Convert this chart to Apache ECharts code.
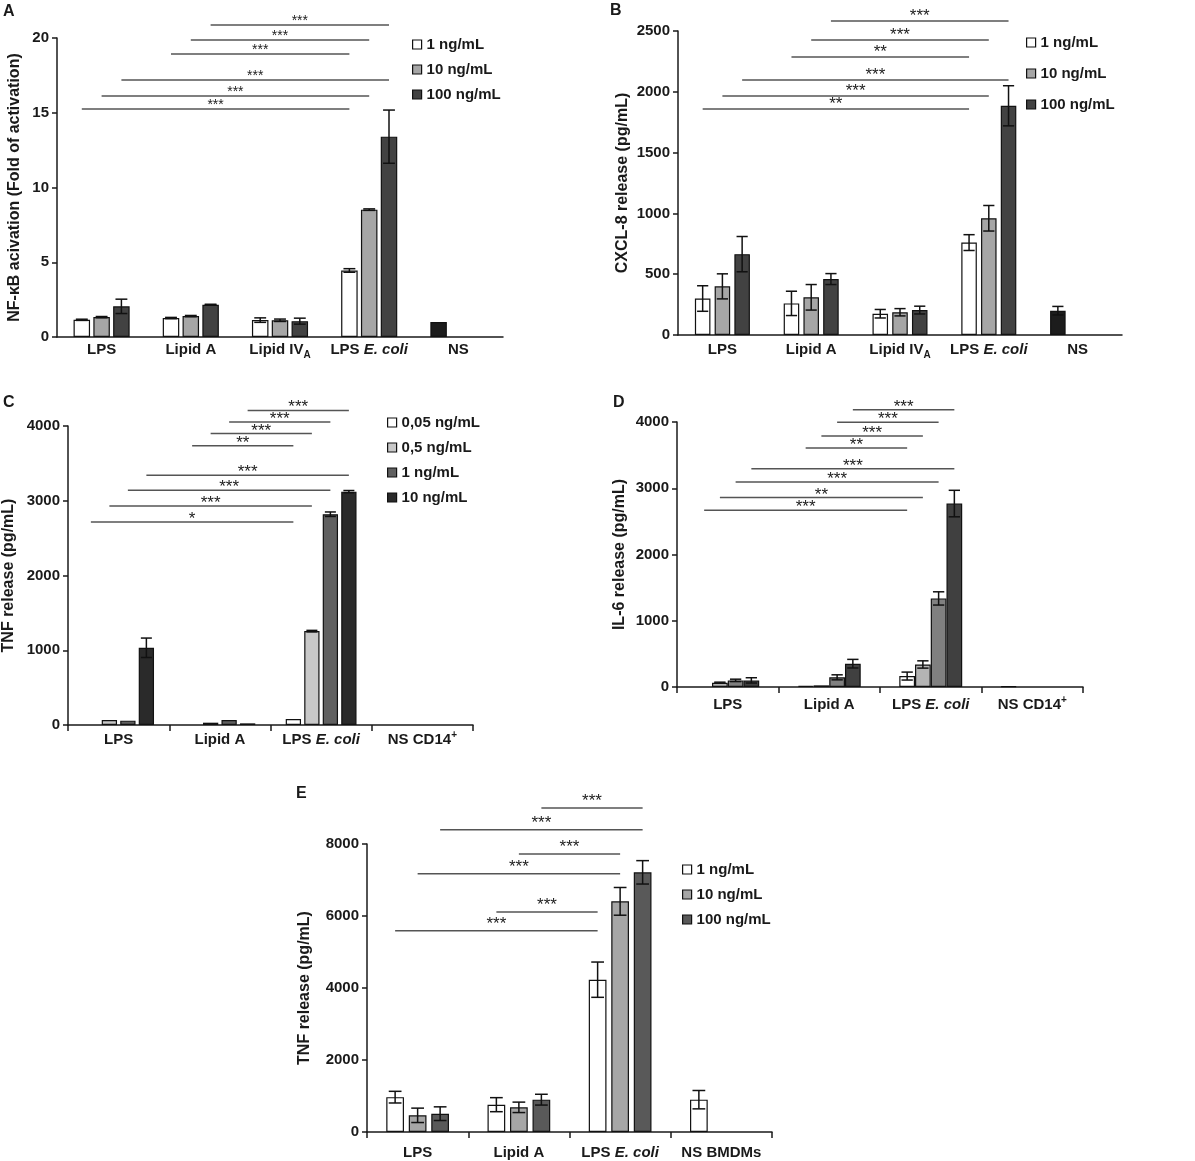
<!DOCTYPE html>
<html lang="en">
<head>
    <meta charset="UTF-8">
    <title>TLR4 activation panels</title>
    <style type="text/css">
        * { margin: 0; padding: 0; }
        html, body { width: 100%; height: 100%; background: #fff; }
        #chart-panel { width: 1195px; height: 1161px; }
    </style>
</head>
<body>
<div id="chart-panel"></div>
<script src="https://cdn.jsdelivr.net/npm/echarts@6/dist/echarts.min.js"></script>
<script>
    const FONT = "'Liberation Sans', Arial, sans-serif";
    const INK = '#1a1a1a';

    // ---------- categories ----------
    const catsAB = ['LPS', 'Lipid A', 'Lipid IV{sub|A}', 'LPS {i|E. coli}', 'NS'];
    const catsCD = ['LPS', 'Lipid A', 'LPS {i|E. coli}', 'NS CD14{sup|+}'];
    const catsE = ['LPS', 'Lipid A', 'LPS {i|E. coli}', 'NS BMDMs'];

    const doses3 = ['1 ng/mL', '10 ng/mL', '100 ng/mL'];
    const doses4 = ['0,05 ng/mL', '0,5 ng/mL', '1 ng/mL', '10 ng/mL'];

    // ---------- A : NF-kB activation (fold) ----------
    const nfkb1 = [1.15, 1.27, 1.13, 4.45, 1.0];
    const nfkb10 = [1.33, 1.40, 1.12, 8.52, null];
    const nfkb100 = [2.05, 2.16, 1.06, 13.4, null];
    const nfkbErr1 = [0.04, 0.04, 0.15, 0.12, 0];
    const nfkbErr10 = [0.04, 0.04, 0.08, 0.05, 0];
    const nfkbErr100 = [0.48, 0.03, 0.2, 1.78, 0];
    // [fromCat, fromBar, toCat, toBar, y, label]
    const sigA = [
        [1, 2, 3, 2, 20.87, '***'], [1, 1, 3, 1, 19.87, '***'], [1, 0, 3, 0, 18.93, '***'],
        [0, 2, 3, 2, 17.19, '***'], [0, 1, 3, 1, 16.12, '***'], [0, 0, 3, 0, 15.25, '***']
    ];

    // ---------- B : CXCL-8 release ----------
    const cxcl1 = [300, 260, 175, 760, 200];
    const cxcl10 = [400, 310, 187, 960, null];
    const cxcl100 = [665, 460, 205, 1885, null];
    const cxclErr1 = [105, 100, 35, 65, 35];
    const cxclErr10 = [103, 105, 30, 105, 0];
    const cxclErr100 = [145, 45, 32, 165, 0];
    const sigB = [
        [1, 2, 3, 2, 2582, '***'], [1, 1, 3, 1, 2426, '***'], [1, 0, 3, 0, 2286, '**'],
        [0, 2, 3, 2, 2097, '***'], [0, 1, 3, 1, 1965, '***'], [0, 0, 3, 0, 1859, '**']
    ];

    // ---------- C : TNF release, CD14+ ----------
    const tnfC005 = [null, null, 80, null];
    const tnfC05 = [67, 31, 1256, null];
    const tnfC1 = [58, 67, 2820, null];
    const tnfC10 = [1033, 22, 3122, null];
    const tnfCErr005 = [0, 0, 0, 0];
    const tnfCErr05 = [0, 0, 10, 0];
    const tnfCErr1 = [0, 0, 30, 0];
    const tnfCErr10 = [130, 0, 15, 0];
    const sigC = [
        [1, 3, 2, 3, 4209, '***'], [1, 2, 2, 2, 4053, '***'], [1, 1, 2, 1, 3898, '***'],
        [1, 0, 2, 0, 3737, '**'], [0, 3, 2, 3, 3341, '***'], [0, 2, 2, 2, 3140, '***'],
        [0, 1, 2, 1, 2931, '***'], [0, 0, 2, 0, 2717, '*']
    ];

    // ---------- D : IL-6 release, CD14+ ----------
    const il6005 = [null, 18, 165, 10];
    const il605 = [65, 25, 340, null];
    const il61 = [100, 146, 1337, null];
    const il610 = [100, 352, 2769, null];
    const il6Err005 = [0, 0, 60, 0];
    const il6Err05 = [8, 0, 55, 0];
    const il6Err1 = [18, 38, 100, 0];
    const il6Err10 = [40, 65, 200, 0];
    const sigD = [
        [1, 3, 2, 3, 4186, '***'], [1, 2, 2, 2, 3995, '***'], [1, 1, 2, 1, 3789, '***'],
        [1, 0, 2, 0, 3608, '**'], [0, 3, 2, 3, 3296, '***'], [0, 2, 2, 2, 3095, '***'],
        [0, 1, 2, 1, 2859, '**'], [0, 0, 2, 0, 2668, '***']
    ];

    // ---------- E : TNF release, BMDMs ----------
    const tnfE1 = [968, 759, 4231, 898];
    const tnfE10 = [463, 685, 6407, null];
    const tnfE100 = [509, 898, 7213, null];
    const tnfEErr1 = [162, 195, 490, 255];
    const tnfEErr10 = [200, 145, 385, 0];
    const tnfEErr100 = [190, 150, 325, 0];
    const sigE = [
        [1, 2, 2, 2, 9000, '***'], [0, 2, 2, 2, 8398, '***'], [1, 1, 2, 1, 7722, '***'],
        [0, 1, 2, 1, 7176, '***'], [1, 0, 2, 0, 6111, '***'], [0, 0, 2, 0, 5593, '***']
    ];

    // ---------- panel setup ----------
    const panels = [
        {
            letter: 'A', grid: {left: 57, top: 38, width: 446, height: 299},
            cats: catsAB, yMax: 20, yStep: 5, yName: 'NF-\u03baB acivation (Fold of activation)', nameGap: 34,
            labelMargin: 3, xTicks: false, bw: 0.185, gap: 0.2,
            names: doses3, colors: ['#ffffff', '#a6a6a6', '#424242'], ctrl: '#1c1c1c',
            means: [nfkb1, nfkb10, nfkb100], errs: [nfkbErr1, nfkbErr10, nfkbErr100],
            sig: sigA, starSize: 14, starLift: 7,
            legend: {left: 412, top: 37, itemGap: 10}
        },
        {
            letter: 'B', grid: {left: 678, top: 31, width: 444, height: 304},
            cats: catsAB, yMax: 2500, yStep: 500, yName: 'CXCL-8 release (pg/mL)', nameGap: 47,
            labelMargin: 5, xTicks: false, bw: 0.175, gap: 0.27,
            names: doses3, colors: ['#ffffff', '#a6a6a6', '#424242'], ctrl: '#1c1c1c',
            means: [cxcl1, cxcl10, cxcl100], errs: [cxclErr1, cxclErr10, cxclErr100],
            sig: sigB, starSize: 17, starLift: 9,
            legend: {left: 1026, top: 35, itemGap: 16}
        },
        {
            letter: 'C', grid: {left: 68, top: 426, width: 405, height: 299},
            cats: catsCD, yMax: 4000, yStep: 1000, yName: 'TNF release (pg/mL)', nameGap: 51,
            labelMargin: 5, xTicks: true, bw: 0.151, gap: 0.21,
            names: doses4, colors: ['#ffffff', '#c8c8c8', '#606060', '#2a2a2a'],
            means: [tnfC005, tnfC05, tnfC1, tnfC10], errs: [tnfCErr005, tnfCErr05, tnfCErr1, tnfCErr10],
            sig: sigC, starSize: 17, starLift: 7,
            legend: {left: 387, top: 415, itemGap: 10}
        },
        {
            letter: 'D', grid: {left: 677, top: 422, width: 406, height: 265},
            cats: catsCD, yMax: 4000, yStep: 1000, yName: 'IL-6 release (pg/mL)', nameGap: 49,
            labelMargin: 8, xTicks: true, bw: 0.155, gap: 0,
            names: doses4, colors: ['#ffffff', '#b4b4b4', '#808080', '#404040'],
            means: [il6005, il605, il61, il610], errs: [il6Err005, il6Err05, il6Err1, il6Err10],
            sig: sigD, starSize: 17, starLift: 7,
            legend: null
        },
        {
            letter: 'E', grid: {left: 367, top: 844, width: 405, height: 288},
            cats: catsE, yMax: 8000, yStep: 2000, yName: 'TNF release (pg/mL)', nameGap: 54,
            labelMargin: 11, xTicks: true, bw: 0.175, gap: 0.27,
            names: doses3, colors: ['#ffffff', '#a6a6a6', '#595959'],
            means: [tnfE1, tnfE10, tnfE100], errs: [tnfEErr1, tnfEErr10, tnfEErr100],
            sig: sigE, starSize: 17, starLift: 11,
            legend: {left: 682, top: 862, itemGap: 10}
        }
    ];

    const boldText = {fontFamily: FONT, fontWeight: 'bold', fontSize: 15, color: INK};

    // x centre offset of bar `s` inside its category band
    function slotOffset(api, p, s) {
        const band = api.size([1, 0])[0];
        const w = band * p.bw;
        const n = p.means.length;
        const total = n * w + (n - 1) * w * p.gap;
        return -total / 2 + w / 2 + s * w * (1 + p.gap);
    }

    function errorRenderer(p) {
        return function (params, api) {
            const c = api.value(0), s = api.value(1), m = api.value(2), e = api.value(3);
            const x = api.coord([c, 0])[0] + slotOffset(api, p, s);
            const yTop = api.coord([c, m + e])[1];
            const yBot = api.coord([c, Math.max(m - e, 0)])[1];
            const half = api.size([1, 0])[0] * p.bw * 0.36;
            const style = {stroke: '#111', lineWidth: 1.5};
            return {
                type: 'group', children: [
                    {type: 'line', shape: {x1: x, y1: yTop, x2: x, y2: yBot}, style: style},
                    {type: 'line', shape: {x1: x - half, y1: yTop, x2: x + half, y2: yTop}, style: style},
                    {type: 'line', shape: {x1: x - half, y1: yBot, x2: x + half, y2: yBot}, style: style}
                ]
            };
        };
    }

    function sigRenderer(p) {
        return function (params, api) {
            const d = p.sig[params.dataIndex];
            const x1 = api.coord([d[0], 0])[0] + slotOffset(api, p, d[1]);
            const x2 = api.coord([d[2], 0])[0] + slotOffset(api, p, d[3]);
            const y = api.coord([d[0], d[4]])[1];
            return {
                type: 'group', children: [
                    {type: 'line', shape: {x1: x1, y1: y, x2: x2, y2: y},
                        style: {stroke: '#555', lineWidth: 1.5}},
                    {type: 'text', style: {
                        text: d[5], x: (x1 + x2) / 2, y: y - p.starLift + p.starSize * 0.25,
                        align: 'center', verticalAlign: 'middle',
                        fill: '#222', font: p.starSize + 'px ' + FONT
                    }}
                ]
            };
        };
    }

    const option = {
        animation: false,
        backgroundColor: '#fff',
        title: [], grid: [], xAxis: [], yAxis: [], legend: [], series: []
    };

    panels.forEach(function (p, k) {
        const titlePos = [[3, 4], [610, 3], [3, 395], [613, 395], [296, 786]][k];
        option.title.push({
            text: p.letter, left: titlePos[0], top: titlePos[1], padding: 0,
            textStyle: {fontFamily: FONT, fontWeight: 'bold', fontSize: 16, color: INK}
        });
        option.grid.push(Object.assign({containLabel: false, outerBoundsMode: 'none'}, p.grid));
        option.xAxis.push({
            type: 'category', gridIndex: k, data: p.cats,
            axisLine: {lineStyle: {color: INK, width: 1.5}},
            axisTick: {show: p.xTicks, length: 6, lineStyle: {color: INK, width: 1.5}},
            axisLabel: Object.assign({}, boldText, {
                margin: p.labelMargin, lineHeight: 20, interval: 0,
                rich: {
                    i: Object.assign({}, boldText, {fontStyle: 'italic'}),
                    sub: Object.assign({}, boldText, {fontSize: 10, lineHeight: 10, padding: [10, 0, 0, 0]}),
                    sup: Object.assign({}, boldText, {fontSize: 10, lineHeight: 10, padding: [0, 0, 10, 0]})
                }
            })
        });
        option.yAxis.push({
            type: 'value', gridIndex: k, min: 0, max: p.yMax, interval: p.yStep,
            name: p.yName, nameLocation: 'middle', nameGap: p.nameGap, nameRotate: 90,
            nameTextStyle: Object.assign({}, boldText, {fontSize: 16}),
            axisLine: {show: true, lineStyle: {color: INK, width: 1.5}},
            axisTick: {show: true, length: 5, lineStyle: {color: INK, width: 1.5}},
            splitLine: {show: false},
            axisLabel: Object.assign({}, boldText, {
                margin: 8, formatter: function (v) { return String(v); }
            })
        });
        if (p.legend) {
            option.legend.push({
                orient: 'vertical', left: p.legend.left, top: p.legend.top,
                itemGap: p.legend.itemGap, itemWidth: 9, itemHeight: 9, icon: 'rect',
                selectedMode: false, padding: 0,
                textStyle: boldText,
                data: p.names.map(function (nm, s) {
                    return {name: nm, itemStyle: {color: p.colors[s], borderColor: '#111', borderWidth: 1.2}};
                })
            });
        }
        p.means.forEach(function (vals, s) {
            option.series.push({
                type: 'bar', name: p.names[s], xAxisIndex: k, yAxisIndex: k,
                barWidth: (p.bw * 100) + '%', barGap: (p.gap * 100) + '%',
                itemStyle: {color: p.colors[s], borderColor: '#111', borderWidth: 1.2},
                data: vals.map(function (v, c) {
                    if (p.ctrl && s === 0 && c === p.cats.length - 1) {
                        return {value: v, itemStyle: {color: p.ctrl}};
                    }
                    return v;
                })
            });
        });
        const errData = [];
        p.means.forEach(function (vals, s) {
            vals.forEach(function (v, c) {
                if (v !== null && p.errs[s][c] > 0) errData.push([c, s, v, p.errs[s][c]]);
            });
        });
        option.series.push({
            type: 'custom', xAxisIndex: k, yAxisIndex: k, z: 3,
            renderItem: errorRenderer(p), encode: {x: 0, y: 2}, data: errData
        });
        option.series.push({
            type: 'custom', xAxisIndex: k, yAxisIndex: k, z: 3,
            renderItem: sigRenderer(p), encode: {x: 0, y: 1},
            data: p.sig.map(function (d) { return [d[0], d[4]]; })
        });
    });

    const myChart = echarts.init(document.getElementById('chart-panel'));
    myChart.setOption(option);
</script>
</body>
</html>
